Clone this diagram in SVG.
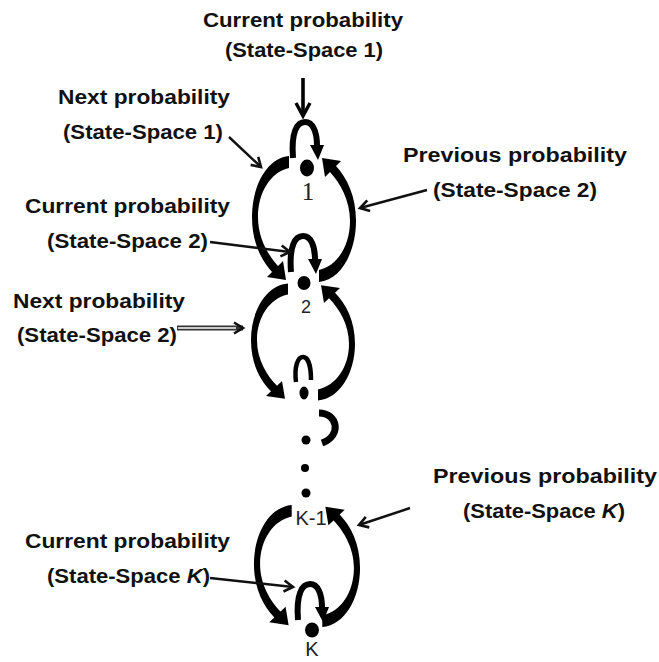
<svg xmlns="http://www.w3.org/2000/svg" width="659" height="662" viewBox="0 0 659 662">
<style>
.lbl{font-family:"Liberation Sans",Arial,sans-serif;font-weight:bold;font-size:20px;fill:#111}
.nl{font-family:"Liberation Sans",Arial,sans-serif;font-size:20px;fill:#222}
.ptr{stroke:#111;stroke-width:2.4;fill:none}
.thick{stroke:#000;stroke-width:6;fill:none;stroke-linecap:butt}
.dot{fill:#000}
</style>
<defs>
<marker id="ah" markerWidth="14" markerHeight="14" refX="11" refY="7" orient="auto" markerUnits="userSpaceOnUse">
<path d="M2,1.5 L11,7 L2,12.5" fill="none" stroke="#111" stroke-width="2.6"/>
</marker>
<marker id="ahBig" markerWidth="18" markerHeight="18" refX="15" refY="9" orient="auto" markerUnits="userSpaceOnUse">
<path d="M2,2 L15,9 L2,16" fill="none" stroke="#000" stroke-width="3.4"/>
</marker>
<path id="arc" d="M-15,-63 C-37,-61 -52,-33 -52,-2 C-52,23 -43,41 -32,53 L-37,58 L-18,61 L-21,42 L-26,47 C-36,36 -46,19 -46,-2 C-46,-27 -33,-47 -15,-51 Z" fill="#000"/>
<g id="self">
<path d="M-14,-10 C-16,-36 -10,-46 -2,-46 C6,-46 10,-36 10,-22" class="thick"/>
<polygon points="3,-23 17,-23 11,-8" fill="#000"/>
</g>
</defs>
<rect width="659" height="662" fill="#fff"/>

<g id="connectors">
<!-- loop between 1 and 2 -->
<use href="#arc" transform="translate(304,219)"/>
<use href="#arc" transform="translate(304,219) rotate(180)"/>
<!-- loop between 2 and next -->
<use href="#arc" transform="translate(303,342) scale(1,0.93)"/>
<use href="#arc" transform="translate(303,342) scale(1,0.93) rotate(180)"/>
<!-- loop between K-1 and K -->
<use href="#arc" transform="translate(307,566) scale(1.02,0.97)"/>
<use href="#arc" transform="translate(307,566) scale(1.02,0.97) rotate(180)"/>
<!-- self loops -->
<use href="#self" transform="translate(307,168)"/>
<use href="#self" transform="translate(305,282)"/>
<use href="#self" transform="translate(312,630)"/>
<path d="M296,382 C294,366 298,357 303,357 C308,357 311,366 311,380" stroke="#000" stroke-width="4.5" fill="none"/>
<path d="M319,413 C338,413 342,436 322,443" stroke="#000" stroke-width="7" fill="none"/>
<!-- pointer arrows -->
<line x1="303" y1="78" x2="303" y2="116" stroke="#000" stroke-width="3.6" marker-end="url(#ahBig)"/>
<line x1="229" y1="137" x2="261" y2="167" class="ptr" marker-end="url(#ah)"/>
<line x1="427" y1="190" x2="360" y2="208" class="ptr" marker-end="url(#ah)"/>
<line x1="210" y1="242" x2="290" y2="252" class="ptr" marker-end="url(#ah)"/>
<line x1="177" y1="328" x2="243" y2="328" stroke="#333" stroke-width="5" fill="none" marker-end="url(#ah)"/>
<line x1="178" y1="328" x2="236" y2="328" stroke="#fff" stroke-width="1.4"/>
<line x1="410" y1="508" x2="359" y2="525" class="ptr" marker-end="url(#ah)"/>
<line x1="210" y1="578" x2="293" y2="587" class="ptr" marker-end="url(#ah)"/>
</g>

<g id="node1">
<ellipse cx="307" cy="168" rx="7" ry="8.5" class="dot"/>
<text x="308" y="200" text-anchor="middle" style="font-family:'Liberation Serif','Times New Roman',serif;font-size:25px;fill:#222">1</text>
</g>
<g id="node2">
<ellipse cx="304" cy="283" rx="6.5" ry="7" class="dot"/>
<text x="306" y="313" text-anchor="middle" class="nl" style="font-size:18px">2</text>
</g>
<g id="nodeMid">
<ellipse cx="304" cy="393" rx="4.5" ry="6.5" class="dot"/>
<circle cx="306" cy="440" r="4.5" class="dot"/>
<circle cx="305" cy="468" r="4" class="dot"/>
<circle cx="306" cy="493" r="4.5" class="dot"/>
</g>
<g id="nodeK1">
<text x="311" y="525" text-anchor="middle" class="nl">K-1</text>
</g>
<g id="nodeK">
<ellipse cx="312" cy="630" rx="7" ry="7.5" class="dot"/>
<text x="312" y="656" text-anchor="middle" class="nl">K</text>
</g>

<g id="labels">
<text class="lbl" x="203" y="27" textLength="200" lengthAdjust="spacingAndGlyphs">Current probability</text>
<text class="lbl" x="225" y="57" textLength="158" lengthAdjust="spacingAndGlyphs">(State-Space 1)</text>
<text class="lbl" x="58" y="104" textLength="172" lengthAdjust="spacingAndGlyphs">Next probability</text>
<text class="lbl" x="63" y="139" textLength="160" lengthAdjust="spacingAndGlyphs">(State-Space 1)</text>
<text class="lbl" x="403" y="162" textLength="224" lengthAdjust="spacingAndGlyphs">Previous probability</text>
<text class="lbl" x="433" y="197" textLength="164" lengthAdjust="spacingAndGlyphs">(State-Space 2)</text>
<text class="lbl" x="25" y="213" textLength="205" lengthAdjust="spacingAndGlyphs">Current probability</text>
<text class="lbl" x="47" y="248" textLength="161" lengthAdjust="spacingAndGlyphs">(State-Space 2)</text>
<text class="lbl" x="13" y="308" textLength="172" lengthAdjust="spacingAndGlyphs">Next probability</text>
<text class="lbl" x="17" y="342" textLength="160" lengthAdjust="spacingAndGlyphs">(State-Space 2)</text>
<text class="lbl" x="433" y="483" textLength="224" lengthAdjust="spacingAndGlyphs">Previous probability</text>
<text class="lbl" x="463" y="518" textLength="162" lengthAdjust="spacingAndGlyphs">(State-Space <tspan font-style="italic">K</tspan>)</text>
<text class="lbl" x="25" y="548" textLength="205" lengthAdjust="spacingAndGlyphs">Current probability</text>
<text class="lbl" x="47" y="583" textLength="163" lengthAdjust="spacingAndGlyphs">(State-Space <tspan font-style="italic">K</tspan>)</text>
</g>
</svg>
